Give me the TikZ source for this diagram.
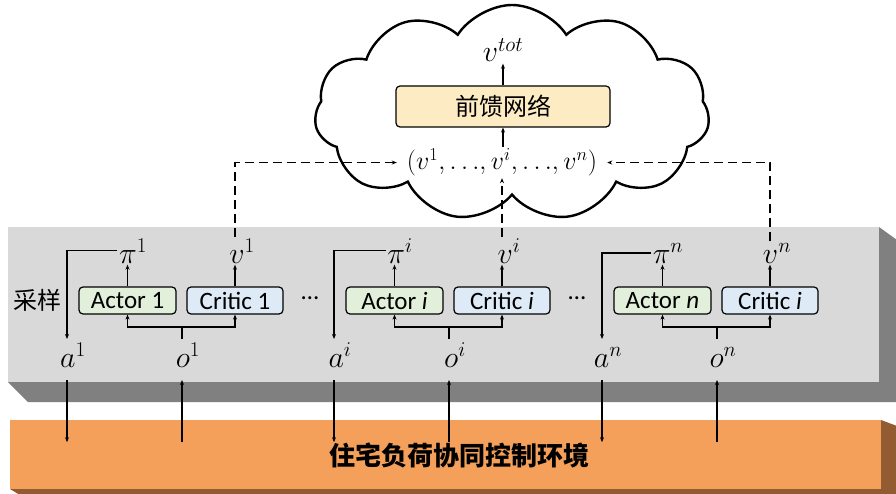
\RequirePackage{fix-cm}
\documentclass[tikz,border=0pt]{standalone}
\usepackage{fontspec}
\setmainfont{Carlito}
\newfontfamily\cjk{Noto Sans CJK SC}
\usetikzlibrary{shapes.symbols,arrows.meta}
\definecolor{slabgray}{HTML}{D9D9D9}
\definecolor{slabdark}{HTML}{808080}
\definecolor{envorange}{HTML}{F4A05A}
\definecolor{envbrown}{HTML}{935B31}
\definecolor{actorfill}{HTML}{E2EFDA}
\definecolor{criticfill}{HTML}{DEEBF7}
\definecolor{ffnfill}{HTML}{FCEBC3}
\tikzset{
  arr/.style={line width=1.2pt,-{Stealth[length=5pt,width=4pt]}},
  ln/.style={line width=1.2pt},
  dsh/.style={line width=1.2pt,dash pattern=on 9pt off 5pt,-{Stealth[length=5pt,width=4pt]}},
  boxbase/.style={draw,line width=1.2pt,rounded corners=4pt,inner sep=0pt,minimum height=27pt,
    font=\fontsize{25}{28}\selectfont},
  actorbox/.style={boxbase,fill=actorfill,minimum width=97pt},
  criticbox/.style={boxbase,fill=criticfill,minimum width=96pt},
  mlab/.style={anchor=base,inner sep=1.5pt,font=\fontsize{30}{34}\selectfont},
  txt/.style={inner sep=0pt,font=\fontsize{25}{28}\selectfont},
}
\begin{document}
\begin{tikzpicture}[x=1pt,y=-1pt]
\useasboundingbox (0,0) rectangle (896,494);
% gray slab
\fill[slabdark] (879,227) -- (897,240) -- (897,402) -- (28,402) -- (8,382) -- (879,382) -- cycle;
\fill[slabgray] (8,227) rectangle (879,382);
% orange slab
\fill[envbrown] (881,420) -- (897,426) -- (897,495) -- (20,495) -- (10,489) -- (881,489) -- cycle;
\fill[envorange] (10,420) rectangle (881,489);
\node[inner sep=0pt,font=\cjk\bfseries\fontsize{26}{30}\selectfont] (env) at (459,455) {住宅负荷协同控制环境};
% cloud
\node[cloud,draw,fill=white,line width=2.4pt,cloud puffs=11,cloud puff arc=115,aspect=1.9,
  minimum width=395pt,minimum height=216pt,inner sep=0pt] (cloud) at (512,113) {};
\node[mlab] (vtot) at (503,62) {$v^{tot}$};
\node[draw,line width=1.2pt,rounded corners=4pt,fill=ffnfill,minimum width=214pt,minimum height=41pt,
  inner sep=0pt,font=\cjk\fontsize{24}{28}\selectfont] (ffn) at (503,106.5) {前馈网络};
\node[mlab,font=\fontsize{26}{30}\selectfont,inner xsep=10pt] (tuple) at (502,170) {$(v^1,{\ldots},v^i,{\ldots},v^n)$};
\draw[arr] (ffn.north) -- (ffn.north |- vtot.south);
\draw[arr] (tuple.north -| ffn.south) -- (ffn.south);
% side label
\node[txt,font=\cjk\fontsize{24}{28}\selectfont] (cy) at (37,300) {采样};
\node[txt] (dots1) at (310,298) {…};
\node[txt] (dots2) at (577,298) {…};
% groups
\foreach \g/\x/\s/\t/\c in {1/67/1/1/1, 2/334/i/\textit{i}/\textit{i}, 3/602/n/\textit{n}/\textit{i}}{
  \node[actorbox] (actor\g) at (\x+60.5,300.5) {Actor \t};
  \node[criticbox] (critic\g) at (\x+168,300.5) {Critic \c};
  \node[mlab] (pi\g) at (\x+66,263) {$\pi^{\s}$};
  \node[mlab] (v\g) at (\x+175,263) {$v^{\s}$};
  \node[mlab] (a\g) at (\x+6,367) {$a^{\s}$};
  \node[mlab] (o\g) at (\x+121,367) {$o^{\s}$};
  \coordinate (atop\g) at (\x,339);
  \coordinate (abot\g) at (\x,380);
  \coordinate (otop\g) at (\x+115,339);
  \coordinate (obot\g) at (\x+115,380);
  \coordinate (oj\g) at (\x+115,327);
  \draw[arr] (pi\g.west) -| (atop\g);
  \draw[arr] (actor\g.north) -- (actor\g.north |- pi\g.south);
  \draw[arr] (critic\g.north) -- (critic\g.north |- v\g.south);
  \draw[ln] (otop\g) -- (oj\g);
  \draw[arr] (oj\g) -| (actor\g.south);
  \draw[arr] (oj\g) -| (critic\g.south);
  \draw[arr] (abot\g) -- (abot\g |- env.north);
  \draw[arr] (obot\g |- env.north) -- (obot\g);
}
% dashed links
\draw[dsh] (critic1.north |- v1.north) |- (tuple.west);
\draw[dsh] (critic3.north |- v3.north) |- (tuple.east);
\draw[dsh] (critic2.north |- v2.north) -- (critic2.north |- tuple.south);
\end{tikzpicture}
\end{document}
